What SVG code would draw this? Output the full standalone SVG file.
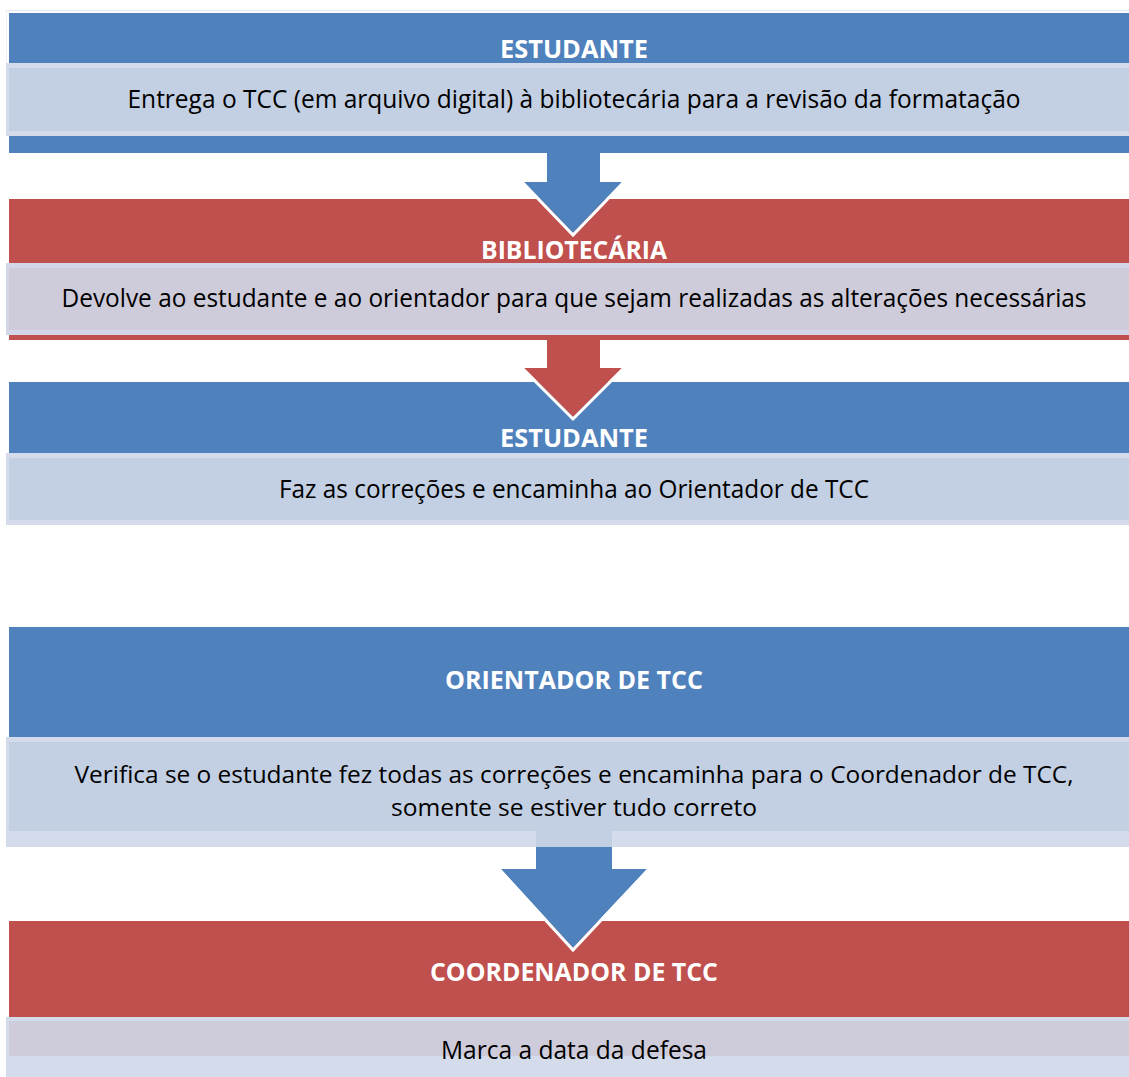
<svg xmlns="http://www.w3.org/2000/svg" width="1129" height="1077" viewBox="0 0 1129 1077">
<style>
.hdr-b{fill:#4F81BD}
.hdr-r{fill:#C0504D}
.bo{fill:#D4DBEA}
.bi-b{fill:#C3CFE2}
.bi-r{fill:#CECBDA}
.ht{font-family:"Open Sans","Liberation Sans",sans-serif;font-weight:bold;font-size:25px;fill:#FFFFFF;text-anchor:middle}
.bt{font-family:"Open Sans","Liberation Sans",sans-serif;font-size:25px;fill:#000000;text-anchor:middle}
.bt2{font-size:24px}
.aw{stroke:#FFFFFF;stroke-width:3;fill:none;stroke-linejoin:miter}
</style>
<rect x="0" y="0" width="1129" height="1077" fill="#FFFFFF"/>
<line x1="6" y1="10.5" x2="1129" y2="10.5" stroke="#E3E8F2" stroke-width="1"/>
<line x1="6.5" y1="10" x2="6.5" y2="63" stroke="#EEF1F7" stroke-width="1"/>

<g id="node-estudante-1">
<rect class="hdr-b" x="9" y="13" width="1120" height="140"/>
<rect class="bo" x="6" y="63" width="1123" height="73"/>
<rect class="bi-b" x="9" y="68" width="1120" height="63"/>
<text class="ht" x="574" y="58" textLength="148" lengthAdjust="spacingAndGlyphs">ESTUDANTE</text>
<text class="bt" x="574" y="108" textLength="893" lengthAdjust="spacingAndGlyphs">Entrega o TCC (em arquivo digital) à bibliotecária para a revisão da formatação</text>
</g>

<g id="node-bibliotecaria">
<rect class="hdr-r" x="9" y="199" width="1120" height="141"/>
<rect class="bo" x="6" y="263" width="1123" height="72" style="fill:#D3D6E6"/>
<rect class="bi-r" x="9" y="268" width="1120" height="62"/>
<text class="ht" x="574" y="259" textLength="186" lengthAdjust="spacingAndGlyphs">BIBLIOTECÁRIA</text>
<text class="bt" x="574" y="307" textLength="1025" lengthAdjust="spacingAndGlyphs">Devolve ao estudante e ao orientador para que sejam realizadas as alterações necessárias</text>
</g>

<g id="node-estudante-2">
<rect class="hdr-b" x="9" y="382" width="1120" height="71"/>
<rect class="bo" x="6" y="453" width="1123" height="72"/>
<rect class="bi-b" x="9" y="458" width="1120" height="62"/>
<text class="ht" x="574" y="447" textLength="148" lengthAdjust="spacingAndGlyphs">ESTUDANTE</text>
<text class="bt" x="574" y="498" textLength="590" lengthAdjust="spacingAndGlyphs">Faz as correções e encaminha ao Orientador de TCC</text>
</g>

<g id="node-orientador">
<rect class="hdr-b" x="9" y="627" width="1120" height="110"/>
<rect class="bo" x="6" y="737" width="1123" height="110"/>
<rect class="bi-b" x="9" y="742" width="1120" height="89"/>
<text class="ht" x="574" y="689" textLength="258" lengthAdjust="spacingAndGlyphs">ORIENTADOR DE TCC</text>
<text class="bt bt2" x="574" y="783" textLength="999" lengthAdjust="spacingAndGlyphs">Verifica se o estudante fez todas as correções e encaminha para o Coordenador de TCC,</text>
<text class="bt bt2" x="574" y="816" textLength="366" lengthAdjust="spacingAndGlyphs">somente se estiver tudo correto</text>
</g>

<g id="node-coordenador">
<rect class="hdr-r" x="9" y="921" width="1120" height="96"/>
<rect class="bo" x="6" y="1017" width="1123" height="60"/>
<rect class="bi-r" x="9" y="1021" width="1120" height="35"/>
<text class="ht" x="574" y="981" textLength="288" lengthAdjust="spacingAndGlyphs">COORDENADOR DE TCC</text>
<text class="bt" x="574" y="1059" textLength="266" lengthAdjust="spacingAndGlyphs">Marca a data da defesa</text>
</g>

<g id="connectors">
<path d="M547,153 L547,182 L524,182 L573,233 L622,182 L600,182 L600,153 Z" fill="#4F81BD"/>
<path class="aw" d="M545.5,153 L545.5,180.5 L520.5,180.5 L573,235 L625.5,180.5 L601.5,180.5 L601.5,153"/>
<path d="M547,340 L547,368 L524,368 L573,417 L622,368 L600,368 L600,340 Z" fill="#C0504D"/>
<path class="aw" d="M545.5,340 L545.5,366.5 L520.5,366.5 L573,419 L625.5,366.5 L601.5,366.5 L601.5,340"/>
<rect x="536" y="831" width="76" height="16" fill="#C3CFE2"/>
<path d="M536,847 L536,869 L501,869 L573,948 L647,869 L612,869 L612,847 Z" fill="#4F81BD"/>
<path class="aw" d="M534.5,847 L534.5,867.5 L497.5,867.5 L573,950 L650.5,867.5 L613.5,867.5 L613.5,847"/>
</g>
</svg>
